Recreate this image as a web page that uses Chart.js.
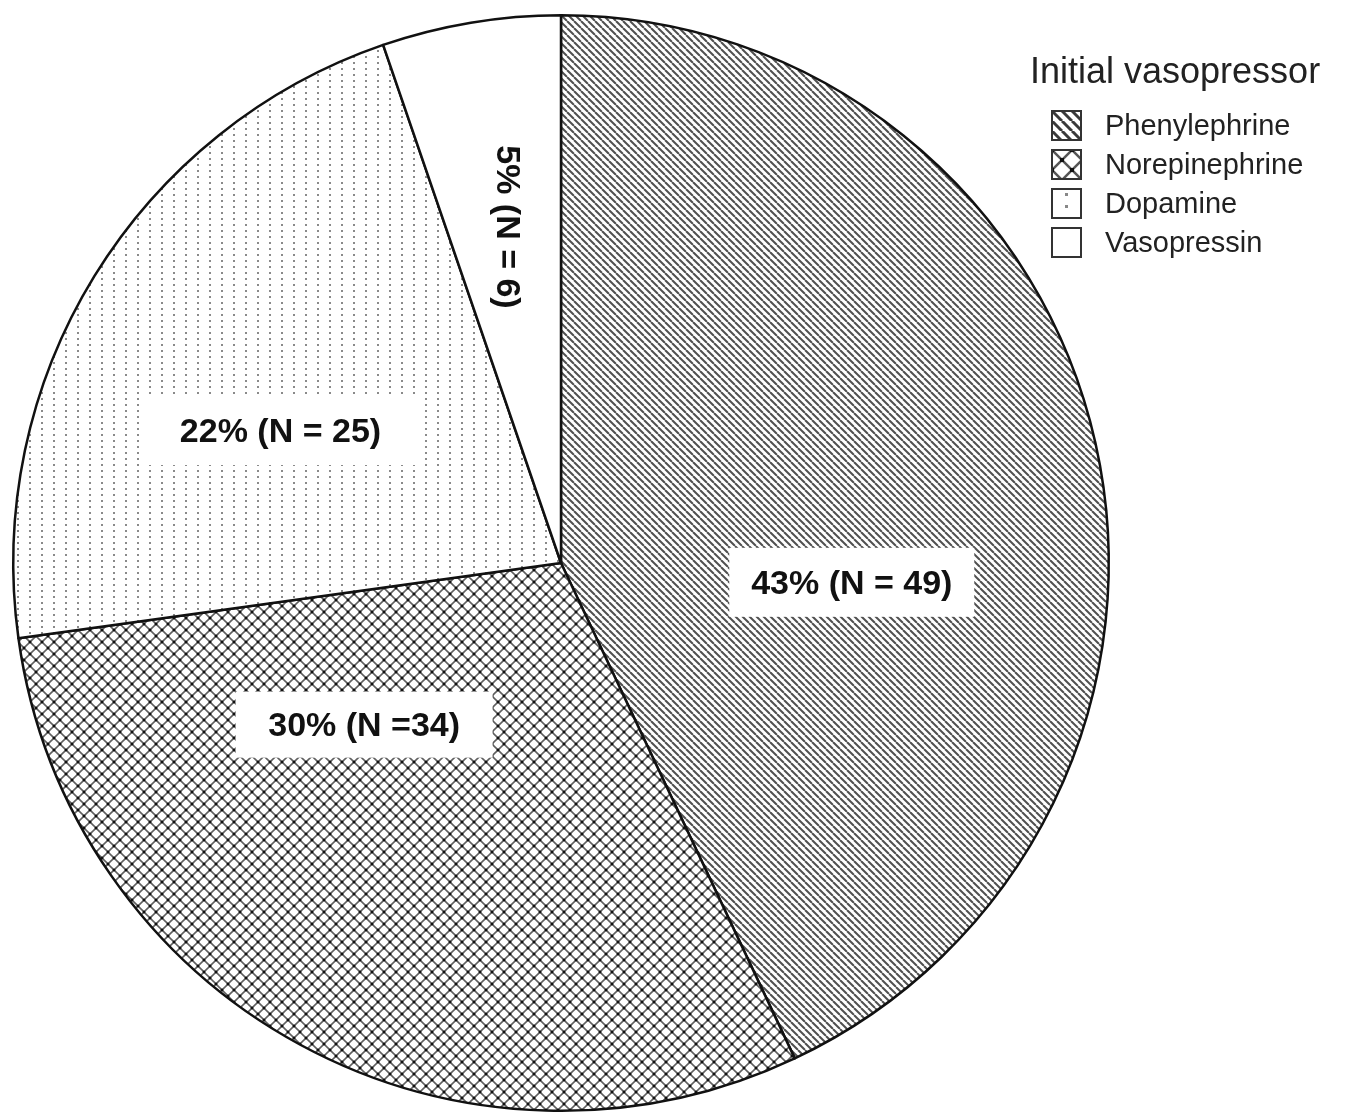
<!DOCTYPE html>
<html>
<head>
<meta charset="utf-8">
<title>Initial vasopressor</title>
<script src="https://cdn.jsdelivr.net/npm/chart.js@4/dist/chart.umd.min.js"></script>
<style>
  html, body { margin: 0; padding: 0; background: #fff; }
  #wrap { width: 1345px; height: 1113px; }
</style>
</head>
<body>
<div id="wrap"><canvas id="pie" width="1345" height="1113"></canvas></div>
<script>
// ---- data ----
const categories = ['Phenylephrine', 'Norepinephrine', 'Dopamine', 'Vasopressin'];
const counts = [49, 34, 25, 6];
const sliceLabels = ['43% (N = 49)', '30% (N =34)', '22% (N = 25)', '5% (N = 6)'];
const legendTitle = 'Initial vasopressor';

// ---- fill patterns (monochrome hatching) ----
const canvas = document.getElementById('pie');
const ctx = canvas.getContext('2d');

function tile(w, h, draw) {
  const c = document.createElement('canvas');
  c.width = w; c.height = h;
  const g = c.getContext('2d');
  g.fillStyle = '#fff';
  g.fillRect(0, 0, w, h);
  draw(g, w, h);
  return ctx.createPattern(c, 'repeat');
}

function diagonalLines(s, lw, color) {
  return tile(s, s, (g) => {
    g.strokeStyle = color; g.lineWidth = lw;
    for (const k of [-s, 0, s]) {
      g.beginPath(); g.moveTo(k, 0); g.lineTo(k + s, s); g.stroke();
    }
  });
}

function crossHatch(s, lw, color, dot) {
  return tile(s, s, (g) => {
    g.strokeStyle = color; g.lineWidth = lw;
    for (const k of [-s, 0, s]) {
      g.beginPath(); g.moveTo(k, 0); g.lineTo(k + s, s); g.stroke();
      g.beginPath(); g.moveTo(k + s, 0); g.lineTo(k, s); g.stroke();
    }
    g.fillStyle = '#111';
    const d = dot;
    for (const [x, y] of [[0, 0], [s, 0], [0, s], [s, s], [s / 2, s / 2]]) {
      g.fillRect(x - d / 2, y - d / 2, d, d);
    }
  });
}

function dots(w, h, x, y, d, color) {
  return tile(w, h, (g) => {
    g.fillStyle = color;
    g.fillRect(x, y, d, d);
  });
}

function blank() {
  return tile(4, 4, () => {});
}

const slicePatterns = [
  diagonalLines(7, 2, '#505050'),
  crossHatch(12, 1.6, '#606060', 2.5),
  dots(12, 6, 5, 2, 2, '#8a8a8a'),
  blank()
];
const swatchPatterns = [
  diagonalLines(10, 3, '#3a3a3a'),
  crossHatch(20, 2.5, '#555', 4),
  dots(24, 12, 13, 4, 3, '#888'),
  blank()
];

// ---- slice value labels ----
const sliceLabelPlugin = {
  id: 'sliceLabels',
  afterDatasetsDraw(chart, args, opts) {
    const meta = chart.getDatasetMeta(0);
    const c = chart.ctx;
    const arc0 = meta.data[0];
    const cx = arc0.x, cy = arc0.y, R = arc0.outerRadius;
    c.save();
    c.font = opts.font;
    c.textAlign = 'center';
    c.textBaseline = 'middle';
    opts.placement.forEach((p, i) => {
      const a = (p.angle - 90) * Math.PI / 180;
      const x = cx + Math.cos(a) * p.radius * R;
      const y = cy + Math.sin(a) * p.radius * R;
      c.save();
      c.translate(x, y);
      c.rotate((p.rotate || 0) * Math.PI / 180);
      if (p.box) {
        c.fillStyle = '#fff';
        c.fillRect(-p.box[0] / 2, -p.box[1] / 2, p.box[0], p.box[1]);
      }
      c.fillStyle = '#111';
      c.fillText(sliceLabels[i], 0, 2);
      c.restore();
    });
    c.restore();
  }
};

// ---- legend with patterned swatches ----
const patternLegendPlugin = {
  id: 'patternLegend',
  afterDraw(chart, args, opts) {
    const c = chart.ctx;
    c.save();
    c.fillStyle = '#222';
    c.textAlign = 'left';
    c.textBaseline = 'alphabetic';
    c.font = opts.titleFont;
    c.fillText(legendTitle, opts.x, opts.titleBaseline);
    c.font = opts.itemFont;
    c.textBaseline = 'middle';
    categories.forEach((name, i) => {
      const bx = opts.boxX, by = opts.firstTop + i * opts.step, s = opts.boxSize;
      const pat = swatchPatterns[i];
      pat.setTransform(new DOMMatrix().translate(bx, by));
      c.fillStyle = pat;
      c.fillRect(bx, by, s, s);
      c.lineWidth = 2;
      c.strokeStyle = '#333';
      c.strokeRect(bx, by, s, s);
      c.fillStyle = '#222';
      c.fillText(name, opts.textX, by + s / 2 + 1);
    });
    c.restore();
  }
};

new Chart(canvas, {
  type: 'pie',
  data: {
    labels: categories,
    datasets: [{
      data: counts,
      backgroundColor: slicePatterns,
      hoverBackgroundColor: slicePatterns,
      borderColor: '#111',
      hoverBorderColor: '#111',
      borderWidth: 2.5,
      hoverBorderWidth: 2.5,
      borderJoinStyle: 'round'
    }]
  },
  options: {
    responsive: false,
    animation: false,
    events: [],
    layout: { padding: { left: 12, top: 14, right: 235, bottom: 1 } },
    plugins: {
      legend: { display: false },
      tooltip: { enabled: false },
      sliceLabels: {
        font: 'bold 34px "Liberation Sans", Arial, sans-serif',
        placement: [
          { angle: 93.8, radius: 0.532, box: [245, 69] },
          { angle: 230.6, radius: 0.465, box: [257, 66] },
          { angle: 295.2, radius: 0.566, box: [280, 68] },
          { angle: 351.1, radius: 0.621, rotate: 90 }
        ]
      },
      patternLegend: {
        x: 1030,
        titleBaseline: 83,
        titleFont: '36px "Liberation Sans", Arial, sans-serif',
        itemFont: '29px "Liberation Sans", Arial, sans-serif',
        boxX: 1052,
        boxSize: 29,
        firstTop: 111,
        step: 39,
        textX: 1105
      }
    }
  },
  plugins: [sliceLabelPlugin, patternLegendPlugin]
});
</script>
</body>
</html>
